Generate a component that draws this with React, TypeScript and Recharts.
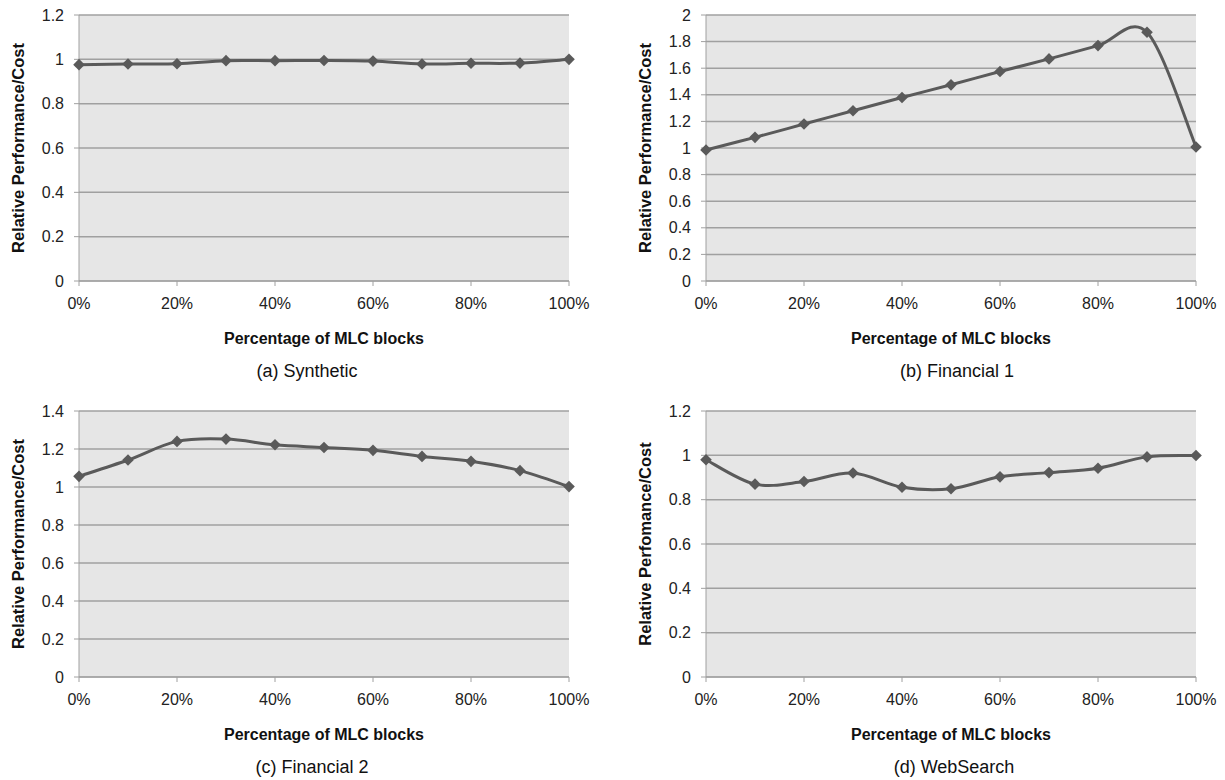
import React from 'react';
import { LineChart, Line, XAxis, YAxis, CartesianGrid } from 'recharts';

const pct = [0, 10, 20, 30, 40, 50, 60, 70, 80, 90, 100];
const synthetic = [0.976, 0.979, 0.98, 0.994, 0.994, 0.995, 0.992, 0.979, 0.982, 0.983, 1.0];
const financial1 = [0.985, 1.08, 1.18, 1.28, 1.38, 1.475, 1.575, 1.67, 1.77, 1.87, 1.008];
const financial2 = [1.056, 1.142, 1.24, 1.252, 1.222, 1.208, 1.193, 1.161, 1.135, 1.086, 1.002];
const webSearch = [0.98, 0.87, 0.882, 0.92, 0.856, 0.849, 0.903, 0.922, 0.942, 0.993, 0.999];

const xTicks = [0, 20, 40, 60, 80, 100];
const yTicks12 = [0, 0.2, 0.4, 0.6, 0.8, 1, 1.2];
const yTicks14 = [0, 0.2, 0.4, 0.6, 0.8, 1, 1.2, 1.4];
const yTicks20 = [0, 0.2, 0.4, 0.6, 0.8, 1, 1.2, 1.4, 1.6, 1.8, 2];

const LINE = '#5a5a5a';
const GRID = '#a0a0a0';
const FONT = '"Liberation Sans", Arial, sans-serif';

// Excel-like smoothed line (Catmull-Rom as cubic bezier)
function excelSmooth(context: any) {
  let pts: [number, number][] = [];
  return {
    areaStart() {},
    areaEnd() {},
    lineStart() {
      pts = [];
    },
    point(x: number, y: number) {
      pts.push([+x, +y]);
    },
    lineEnd() {
      const n = pts.length;
      if (!n) return;
      context.moveTo(pts[0][0], pts[0][1]);
      for (let i = 0; i < n - 1; i++) {
        const p0 = pts[Math.max(i - 1, 0)];
        const p1 = pts[i];
        const p2 = pts[i + 1];
        const p3 = pts[Math.min(i + 2, n - 1)];
        context.bezierCurveTo(
          p1[0] + (p2[0] - p0[0]) / 6,
          p1[1] + (p2[1] - p0[1]) / 6,
          p2[0] - (p3[0] - p1[0]) / 6,
          p2[1] - (p3[1] - p1[1]) / 6,
          p2[0],
          p2[1]
        );
      }
    },
  };
}

const Diamond = (props: any) => {
  const { cx, cy, index } = props;
  const r = 5.8;
  return <path key={index} d={`M${cx},${cy - r}L${cx + r},${cy}L${cx},${cy + r}L${cx - r},${cy}Z`} fill={LINE} />;
};

const fmtY = (v: number) => String(Number(v.toFixed(1)));

function Panel({ left, top, values, ticks, yTitle, caption, captionX }: {
  left: number; top: number; values: number[]; ticks: number[]; yTitle: string; caption: string; captionX: number;
}) {
  const data = pct.map((p, i) => ({ pct: p, value: values[i] }));
  const yMax = ticks[ticks.length - 1];
  return (
    <div style={{ position: 'absolute', left, top, width: 600, height: 390 }}>
      <LineChart width={600} height={330} data={data} margin={{ top: 15, right: 31, bottom: 19, left: 29 }}>
        <CartesianGrid horizontal vertical={false} stroke={GRID} strokeWidth={1.5} fill="#e6e6e6" />
        <XAxis
          type="number"
          dataKey="pct"
          domain={[0, 100]}
          ticks={xTicks}
          tickFormatter={(v: number) => `${v}%`}
          height={30}
          tickSize={5}
          tickMargin={12}
          stroke={GRID}
          tick={{ fill: '#222', fontSize: 16, fontFamily: FONT }}
        />
        <YAxis
          type="number"
          domain={[0, yMax]}
          ticks={ticks}
          tickFormatter={fmtY}
          width={50}
          tickSize={5}
          tickMargin={10}
          stroke={GRID}
          tick={{ fill: '#222', fontSize: 16, fontFamily: FONT }}
        />
        <Line
          type={excelSmooth as any}
          dataKey="value"
          stroke={LINE}
          strokeWidth={3}
          dot={Diamond}
          activeDot={false}
          isAnimationActive={false}
        />
      </LineChart>
      <div style={{ position: 'absolute', left: 17.5, top: 148, width: 0, height: 0 }}>
        <div
          style={{
            position: 'absolute', left: 0, top: 0, transform: 'translate(-50%, -50%) rotate(-90deg)',
            whiteSpace: 'nowrap', fontFamily: FONT, fontWeight: 'bold', fontSize: 16.5, color: '#111',
          }}
        >
          {yTitle}
        </div>
      </div>
      <div
        style={{
          position: 'absolute', left: 74, width: 500, top: 330, textAlign: 'center',
          fontFamily: FONT, fontWeight: 'bold', fontSize: 16, color: '#111',
        }}
      >
        Percentage of MLC blocks
      </div>
      <div
        style={{
          position: 'absolute', left: captionX - 250, width: 500, top: 361, textAlign: 'center',
          fontFamily: FONT, fontSize: 18, color: '#111',
        }}
      >
        {caption}
      </div>
    </div>
  );
}

export default function App() {
  return (
    <div style={{ position: 'absolute', left: 0, top: 0, width: 1225, height: 780, background: '#fff' }}>
      <Panel left={0} top={0} values={synthetic} ticks={yTicks12} yTitle="Relative Performance/Cost" caption="(a) Synthetic" captionX={307} />
      <Panel left={627} top={0} values={financial1} ticks={yTicks20} yTitle="Relative Performance/Cost" caption="(b) Financial 1" captionX={330} />
      <Panel left={0} top={396} values={financial2} ticks={yTicks14} yTitle="Relative Performance/Cost" caption="(c) Financial 2" captionX={312} />
      <Panel left={627} top={396} values={webSearch} ticks={yTicks12} yTitle="Relative Perfomance/Cost" caption="(d) WebSearch" captionX={327} />
    </div>
  );
}
